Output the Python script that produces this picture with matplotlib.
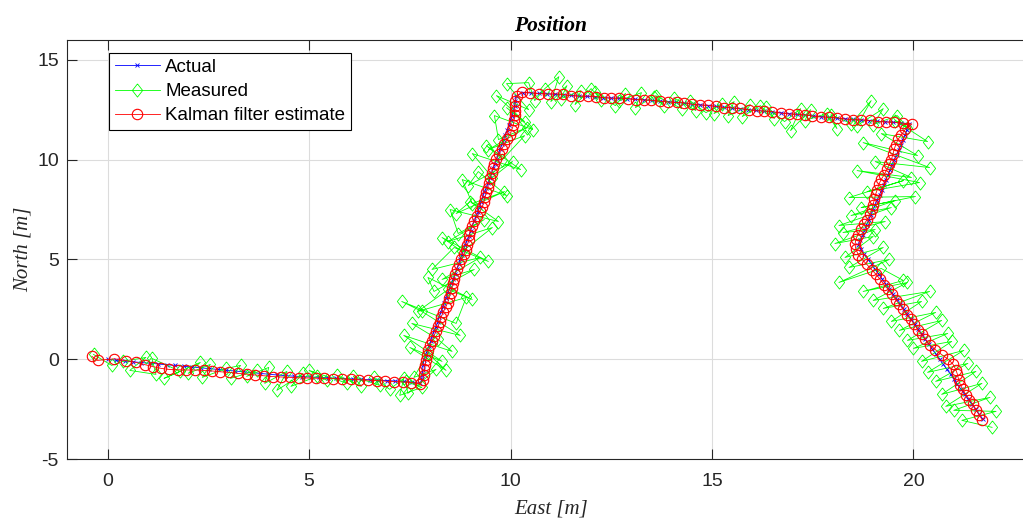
import matplotlib
matplotlib.use("Agg")
import matplotlib.pyplot as plt

plt.rcParams["axes.unicode_minus"] = False

# --- data (East / North in metres) ---
# legs: bottom run, climb, top run, descent
actual_east = [
    0.00, 0.21, 0.42, 0.63, 0.84, 1.05, 1.26, 1.47, 1.68, 1.89, 2.10, 2.31, 2.52, 2.73, 2.94, 3.15, 3.36, 3.57, 3.78, 3.99,
    4.20, 4.41, 4.62, 4.83, 5.04, 5.25, 5.46, 5.67, 5.88, 6.09, 6.30, 6.51, 6.72, 6.93, 7.14, 7.35, 7.56, 7.76,
    7.80, 7.81, 7.82, 7.83, 7.85, 7.89, 7.93, 7.97, 8.02, 8.06, 8.10, 8.15, 8.19, 8.23, 8.27, 8.32, 8.36, 8.40, 8.45, 8.49,
    8.53, 8.58, 8.62, 8.66, 8.71, 8.75, 8.79, 8.84, 8.88, 8.92, 8.97, 9.01, 9.05, 9.10, 9.14, 9.18, 9.23, 9.27, 9.31, 9.35,
    9.40, 9.44, 9.48, 9.53, 9.57, 9.61, 9.66, 9.70, 9.74, 9.79, 9.83, 9.87, 9.92, 9.96, 10.00, 10.04, 10.07, 10.10, 10.12, 10.14,
    10.30, 10.50, 10.70, 10.90, 11.10, 11.30, 11.50, 11.70, 11.90, 12.10, 12.30, 12.50, 12.70, 12.90, 13.10, 13.30, 13.50,
    13.70, 13.90, 14.10, 14.30, 14.50, 14.70, 14.90, 15.10, 15.30, 15.50, 15.70, 15.90, 16.10, 16.30, 16.50, 16.70, 16.90,
    17.10, 17.30, 17.50, 17.70, 17.90, 18.10, 18.30, 18.50, 18.70, 18.90, 19.10, 19.30, 19.50, 19.70, 19.90,
    19.84, 19.79, 19.73, 19.68, 19.63, 19.58, 19.52, 19.47, 19.42, 19.37, 19.31, 19.26, 19.21, 19.16, 19.10, 19.05, 19.00,
    18.95, 18.89, 18.84, 18.79, 18.74, 18.68, 18.63, 18.69, 18.78, 18.87, 18.96, 19.05, 19.14, 19.23, 19.31, 19.40, 19.49,
    19.58, 19.67, 19.76, 19.85, 19.94, 20.03, 20.12, 20.20, 20.29, 20.38, 20.47, 20.56, 20.65, 20.74, 20.83, 20.92, 21.01,
    21.09, 21.18, 21.27, 21.36, 21.45, 21.54, 21.63, 21.72,
]
actual_north = [
    0.00, -0.04, -0.08, -0.12, -0.16, -0.19, -0.23, -0.27, -0.30, -0.34, -0.38, -0.42, -0.46, -0.50, -0.54, -0.58, -0.62,
    -0.66, -0.70, -0.74, -0.78, -0.81, -0.84, -0.86, -0.88, -0.90, -0.92, -0.94, -0.96, -0.98, -1.00, -1.02, -1.04, -1.06,
    -1.08, -1.10, -1.13, -1.20,
    -1.00, -0.76, -0.52, -0.28, -0.04, 0.20, 0.44, 0.68, 0.92, 1.16, 1.40, 1.64, 1.88, 2.12, 2.36, 2.60, 2.84, 3.08, 3.32,
    3.56, 3.80, 4.04, 4.28, 4.52, 4.76, 5.00, 5.24, 5.48, 5.72, 5.96, 6.20, 6.44, 6.68, 6.92, 7.16, 7.40, 7.64, 7.88, 8.12,
    8.36, 8.60, 8.84, 9.08, 9.32, 9.56, 9.80, 10.04, 10.28, 10.52, 10.76, 11.00, 11.24, 11.48, 11.72, 11.96, 12.20, 12.44,
    12.68, 12.92, 13.16,
    13.35, 13.33, 13.31, 13.29, 13.27, 13.24, 13.21, 13.18, 13.16, 13.13, 13.10, 13.08, 13.06, 13.04, 13.02, 12.99, 12.96,
    12.93, 12.90, 12.86, 12.82, 12.78, 12.74, 12.70, 12.66, 12.62, 12.58, 12.54, 12.50, 12.46, 12.42, 12.38, 12.34, 12.30,
    12.26, 12.22, 12.19, 12.15, 12.11, 12.07, 12.04, 12.01, 11.98, 11.95, 11.92, 11.89, 11.86, 11.83, 11.80,
    11.50, 11.25, 11.00, 10.75, 10.50, 10.25, 10.00, 9.75, 9.50, 9.25, 9.00, 8.75, 8.50, 8.25, 8.00, 7.75, 7.50, 7.25,
    7.00, 6.75, 6.50, 6.25, 6.00, 5.75, 5.50, 5.25, 5.00, 4.75, 4.50, 4.25, 4.00, 3.75, 3.50, 3.25, 3.00, 2.75, 2.50, 2.25,
    2.00, 1.75, 1.50, 1.25, 1.00, 0.75, 0.50, 0.25, 0.00, -0.25, -0.50, -0.75, -1.00, -1.25, -1.50, -1.75, -2.00, -2.25,
    -2.50, -2.75, -3.00,
]

measured_east = [
    -0.35, 0.10, 0.38, 0.95, 0.55, 1.20, 1.10, 1.80, 1.40, 2.30, 2.00, 2.55, 2.35, 2.95, 3.30, 3.05, 3.70, 3.45, 4.00, 3.90,
    4.45, 4.20, 4.85, 4.55, 5.20, 5.45, 5.00, 5.95, 5.70, 6.30, 6.10, 6.75, 6.60, 7.00, 7.35, 7.25, 7.80, 7.40,
    7.45, 8.15, 7.60, 7.95, 8.40, 7.50, 8.30, 7.35, 8.55, 8.20, 7.55, 8.75, 7.80, 7.30, 8.65, 8.90, 7.70, 8.45, 9.05, 7.95,
    8.10, 9.10, 8.30, 9.25, 8.05, 8.60, 9.45, 8.30, 8.80, 9.55, 8.45, 9.35, 8.70, 8.50, 9.70, 9.00, 8.65, 9.85, 9.05, 8.80,
    9.90, 9.20, 8.95, 10.05, 9.55, 9.05, 10.25, 9.40, 9.80, 10.35, 9.45, 10.40, 9.70, 9.60, 10.55, 9.90, 10.35, 9.65, 10.45, 9.90,
    10.45, 10.60, 10.85, 11.20, 11.00, 11.40, 11.25, 11.75, 11.60, 12.00, 12.25, 12.10, 12.60, 12.85, 12.70, 13.25, 13.10,
    13.55, 13.80, 13.60, 14.25, 14.05, 14.60, 14.45, 14.85, 15.25, 15.05, 15.55, 15.40, 15.95, 15.75, 16.20, 16.55, 16.35,
    16.80, 17.20, 16.95, 17.45, 17.30, 17.85, 18.10, 17.95, 18.45, 18.95, 18.60, 19.25, 19.00, 19.60, 19.85,
    19.55, 20.35, 19.20, 20.10, 18.75, 20.40, 19.05, 19.95, 18.60, 20.15, 18.85, 19.75, 18.40, 20.05, 18.70, 19.55, 18.45,
    19.45, 18.15, 19.30, 18.25, 19.05, 18.05, 19.00, 18.30, 19.25, 18.40, 19.40, 18.15, 19.20, 19.75, 18.75, 19.85, 19.00,
    20.40, 19.25, 20.20, 19.45, 20.55, 19.65, 20.70, 19.85, 20.85, 20.00, 20.95, 20.20, 21.25, 20.35, 21.35, 20.55, 21.55,
    20.70, 21.70, 20.80, 21.90, 21.00, 22.05, 21.20, 21.95,
]
measured_north = [
    0.25, -0.30, -0.10, 0.10, -0.55, -0.75, 0.05, -0.60, -0.95, -0.15, -0.70, -0.25, -0.90, -0.45, -0.30, -0.95, -0.55,
    -0.85, -0.40, -1.20, -0.60, -1.55, -0.70, -1.35, -0.85, -1.05, -0.55, -1.20, -0.80, -1.35, -0.85, -1.30, -0.90, -1.50,
    -0.95, -1.80, -1.40, -1.10,
    -1.70, -0.50, -0.90, 0.30, -0.55, 0.60, -0.10, 1.20, 0.40, 1.00, 1.80, 1.20, 2.40, 2.90, 1.80, 3.10, 2.40, 3.50, 3.00,
    4.10, 3.40, 4.50, 4.00, 5.10, 4.50, 5.60, 4.90, 6.10, 5.40, 6.60, 5.90, 7.00, 6.30, 7.50, 6.90, 7.90, 7.30, 8.40, 7.80,
    9.00, 8.20, 9.40, 8.70, 9.90, 9.10, 10.30, 9.50, 10.70, 10.00, 11.20, 10.50, 11.60, 11.00, 12.20, 11.50, 12.60, 11.90,
    13.20, 12.50, 13.80,
    13.85, 12.95, 13.55, 14.15, 12.90, 13.70, 13.05, 13.45, 12.75, 13.55, 13.00, 13.40, 12.70, 13.30, 12.95, 13.35, 12.60,
    13.15, 12.70, 13.20, 12.55, 13.10, 12.45, 12.95, 12.35, 12.80, 12.30, 12.90, 12.20, 12.75, 12.15, 12.70, 12.05, 12.65,
    11.90, 12.55, 11.45, 12.50, 11.95, 12.30, 11.55, 12.25, 11.80, 12.95, 11.70, 12.55, 11.75, 12.20, 11.60,
    11.95, 10.90, 11.30, 10.20, 10.85, 9.60, 9.90, 9.10, 9.45, 8.85, 8.40, 8.95, 8.10, 8.15, 7.60, 7.95, 7.20, 7.60, 6.70,
    6.90, 6.35, 6.50, 5.80, 6.15, 5.10, 5.60, 4.60, 5.00, 3.85, 4.55, 3.95, 3.40, 3.85, 2.95, 3.40, 2.55, 2.90, 1.90, 2.35,
    1.45, 1.95, 0.95, 1.30, 0.55, 0.90, -0.10, 0.45, -0.65, -0.20, -1.10, -0.60, -1.75, -1.20, -2.35, -1.90, -2.55, -2.60,
    -3.05, -3.40,
]

kalman_east = [
    -0.39, -0.25, 0.17, 0.45, 0.70, 0.92, 1.12, 1.33, 1.52, 1.74, 1.95, 2.16, 2.38, 2.60, 2.80, 3.02, 3.24, 3.45, 3.66, 3.88,
    4.10, 4.30, 4.52, 4.74, 4.95, 5.16, 5.38, 5.60, 5.82, 6.03, 6.25, 6.46, 6.68, 6.89, 7.10, 7.32, 7.54, 7.76,
    7.83, 7.84, 7.86, 7.88, 7.90, 7.93, 7.96, 8.00, 8.05, 8.10, 8.15, 8.20, 8.24, 8.28, 8.33, 8.39, 8.44, 8.48, 8.51, 8.54,
    8.57, 8.60, 8.63, 8.67, 8.72, 8.78, 8.84, 8.89, 8.93, 8.96, 8.98, 9.00, 9.04, 9.10, 9.17, 9.24, 9.30, 9.34, 9.37, 9.40,
    9.43, 9.46, 9.50, 9.53, 9.56, 9.60, 9.65, 9.71, 9.78, 9.85, 9.92, 9.98, 10.03, 10.07, 10.09, 10.10, 10.10, 10.11, 10.12, 10.15,
    10.28, 10.48, 10.71, 10.93, 11.12, 11.31, 11.49, 11.70, 11.91, 12.12, 12.31, 12.49, 12.70, 12.91, 13.12, 13.30, 13.49,
    13.70, 13.91, 14.12, 14.31, 14.50, 14.69, 14.90, 15.11, 15.31, 15.49, 15.70, 15.91, 16.11, 16.30, 16.49, 16.70, 16.91,
    17.11, 17.30, 17.49, 17.70, 17.91, 18.11, 18.30, 18.49, 18.70, 18.91, 19.11, 19.31, 19.52, 19.74, 19.96,
    19.80, 19.70, 19.62, 19.56, 19.52, 19.49, 19.45, 19.40, 19.34, 19.27, 19.20, 19.14, 19.10, 19.06, 19.03, 19.00, 18.97,
    18.92, 18.85, 18.77, 18.69, 18.62, 18.57, 18.55, 18.57, 18.63, 18.72, 18.84, 18.96, 19.07, 19.17, 19.27, 19.37, 19.47,
    19.56, 19.65, 19.74, 19.83, 19.93, 20.02, 20.11, 20.20, 20.29, 20.40, 20.54, 20.70, 20.86, 20.98, 21.05, 21.09, 21.12,
    21.16, 21.22, 21.30, 21.39, 21.47, 21.55, 21.63, 21.70,
]
kalman_north = [
    0.15, -0.05, 0.03, -0.06, -0.15, -0.26, -0.36, -0.45, -0.50, -0.52, -0.53, -0.53, -0.55, -0.58, -0.62, -0.65, -0.70,
    -0.74, -0.78, -0.82, -0.86, -0.88, -0.90, -0.92, -0.93, -0.94, -0.95, -0.96, -0.98, -1.00, -1.02, -1.04, -1.06, -1.09,
    -1.11, -1.13, -1.16, -1.22,
    -1.02, -0.78, -0.50, -0.26, -0.02, 0.22, 0.45, 0.70, 0.93, 1.17, 1.42, 1.65, 1.88, 2.12, 2.37, 2.61, 2.84, 3.08, 3.33,
    3.57, 3.80, 4.04, 4.29, 4.53, 4.76, 5.00, 5.25, 5.49, 5.72, 5.96, 6.21, 6.45, 6.68, 6.92, 7.17, 7.41, 7.64, 7.88, 8.13,
    8.37, 8.60, 8.84, 9.09, 9.33, 9.56, 9.80, 10.05, 10.29, 10.52, 10.76, 11.01, 11.25, 11.48, 11.72, 11.97, 12.21, 12.44,
    12.68, 12.93, 13.18,
    13.37, 13.35, 13.30, 13.28, 13.29, 13.26, 13.20, 13.17, 13.18, 13.15, 13.10, 13.07, 13.08, 13.05, 13.00, 12.98, 12.97,
    12.92, 12.88, 12.86, 12.84, 12.77, 12.73, 12.72, 12.66, 12.60, 12.59, 12.56, 12.49, 12.44, 12.43, 12.40, 12.33, 12.28,
    12.27, 12.24, 12.18, 12.13, 12.12, 12.09, 12.03, 11.99, 11.99, 11.96, 11.90, 11.88, 11.87, 11.82, 11.78,
    11.52, 11.24, 11.02, 10.74, 10.51, 10.26, 9.99, 9.76, 9.51, 9.24, 9.01, 8.76, 8.49, 8.26, 8.01, 7.74, 7.51, 7.26, 6.99,
    6.76, 6.51, 6.24, 6.01, 5.76, 5.51, 5.24, 5.01, 4.76, 4.49, 4.26, 4.01, 3.74, 3.51, 3.26, 2.99, 2.76, 2.51, 2.24, 2.01,
    1.76, 1.49, 1.26, 1.01, 0.74, 0.49, 0.24, 0.01, -0.24, -0.51, -0.74, -1.01, -1.26, -1.49, -1.76, -2.01, -2.24, -2.51,
    -2.76, -3.01,
]

x_ticks = [0, 5, 10, 15, 20]
y_ticks = [-5, 0, 5, 10, 15]

sans = ["Liberation Sans", "DejaVu Sans"]
serif = ["Liberation Serif", "DejaVu Serif"]
axis_col = "#262626"

fig = plt.figure(figsize=(10.23, 5.2), dpi=100)
ax = fig.add_axes([0.0658, 0.1167, 0.9453, 0.807])

diamond = [(0, 1), (0.78, 0), (0, -1), (-0.78, 0), (0, 1)]

ax.plot(actual_east, actual_north, color=(0, 0, 1), lw=0.6, marker="x",
        markersize=3.5, markeredgewidth=0.6, label="Actual")
ax.plot(measured_east, measured_north, color=(0, 1, 0), lw=0.6, marker=diamond,
        markersize=9.5, markerfacecolor="none", markeredgewidth=0.6, label="Measured")
ax.plot(kalman_east, kalman_north, color=(1, 0, 0), lw=0.6, marker="o",
        markersize=7.5, markerfacecolor="none", markeredgewidth=0.8, label="Kalman filter estimate")

ax.set_xlim(-1, 23)
ax.set_ylim(-5, 16)
ax.set_xticks(x_ticks)
ax.set_yticks(y_ticks)
ax.grid(True, color="#dcdcdc", lw=0.8)
ax.set_axisbelow(True)

ax.tick_params(direction="in", length=7, width=0.8, colors=axis_col,
               top=True, right=True, labelsize=14, pad=6)
ax.tick_params(axis="x", pad=10)
for lab in ax.get_xticklabels() + ax.get_yticklabels():
    lab.set_family(sans)
for sp in ax.spines.values():
    sp.set_color(axis_col)
    sp.set_linewidth(0.8)

ax.set_title("Position", family=serif, fontsize=15.5, fontweight="bold",
             fontstyle="italic", pad=6)
ax.set_xlabel("East [m]", family=serif, fontsize=15, fontstyle="italic",
              color=axis_col, labelpad=7)
ax.set_ylabel("North [m]", family=serif, fontsize=15, fontstyle="italic",
              color=axis_col, labelpad=3)

leg = ax.legend(loc="upper left", bbox_to_anchor=(0.0431, 0.968), borderaxespad=0,
                prop={"family": sans, "size": 13.5}, numpoints=1, handlelength=2.4,
                handletextpad=0.3, borderpad=0.3, labelspacing=0.38,
                fancybox=False, framealpha=1)
leg.get_frame().set_edgecolor("black")
leg.get_frame().set_linewidth(0.8)

fig.savefig("out.png", dpi=100)
